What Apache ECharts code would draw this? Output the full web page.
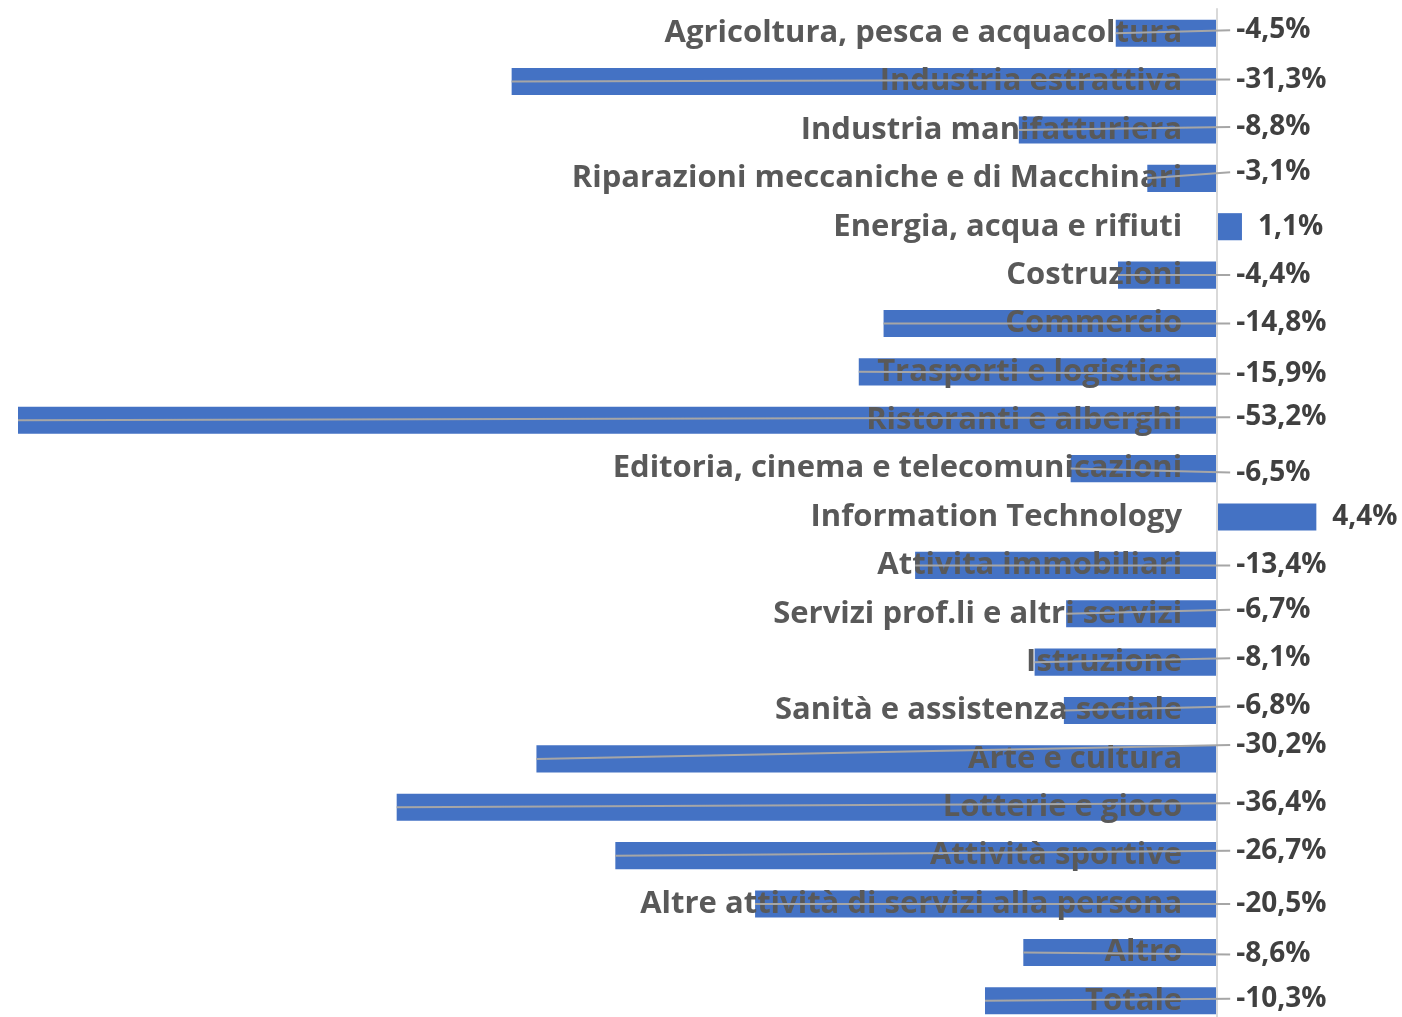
<!DOCTYPE html>
<html>
<head>
<meta charset="utf-8">
<script src="https://cdn.jsdelivr.net/npm/echarts@6/dist/echarts.min.js"></script>
<style>
  html, body { margin: 0; padding: 0; background: #fff; }
  #chart { width: 1402px; height: 1017px; }
</style>
</head>
<body>
<div id="chart"></div>
<script>
var categories = [
  'Agricoltura, pesca e acquacoltura',
  'Industria estrattiva',
  'Industria manifatturiera',
  'Riparazioni meccaniche e di Macchinari',
  'Energia, acqua e rifiuti',
  'Costruzioni',
  'Commercio',
  'Trasporti e logistica',
  'Ristoranti e alberghi',
  'Editoria, cinema e telecomunicazioni',
  'Information Technology',
  'Attivita immobiliari',
  'Servizi prof.li e altri servizi',
  'Istruzione',
  'Sanità e assistenza sociale',
  'Arte e cultura',
  'Lotterie e gioco',
  'Attività sportive',
  'Altre attività di servizi alla persona',
  'Altro',
  'Totale'
];
var variazione = [-4.5, -31.3, -8.8, -3.1, 1.1, -4.4, -14.8, -15.9, -53.2, -6.5, 4.4,
  -13.4, -6.7, -8.1, -6.8, -30.2, -36.4, -26.7, -20.5, -8.6, -10.3];

// small vertical nudges of the data labels (px), as placed in the original
var labelNudge = [-3, -2, -3, -6, 0, 0, 0, 2, -3, 4, 0, 0, -4, -4, -4, -14, -4, -5, 0, 2, -2];

var FONT = '"Open Sans"';
var X_MIN = -53.2, X_MAX = 8.2;
var GRID_LEFT = 18, GRID_W = 1384;
// category axis sits on the zero line
var zeroOffset = -(0 - X_MIN) / (X_MAX - X_MIN) * GRID_W;

var chart = echarts.init(document.getElementById('chart'));

function fmt(v) {
  return v.toFixed(1).replace('.', ',') + '%';
}

var labelData = variazione.map(function (v, i) { return [v, i]; });

var option = {
  animation: false,
  grid: { left: GRID_LEFT, width: GRID_W, top: 9, bottom: -8, containLabel: false, outerBoundsMode: 'none' },
  xAxis: {
    type: 'value',
    min: X_MIN,
    max: X_MAX,
    show: false
  },
  yAxis: {
    type: 'category',
    data: categories,
    inverse: true,
    position: 'left',
    offset: zeroOffset,
    z: 3,
    axisLine: { show: true, onZero: false, lineStyle: { color: '#d9d9d9', width: 2 } },
    axisTick: { show: false },
    axisLabel: {
      margin: 35,
      padding: [4, 0, 0, 0],
      fontFamily: FONT,
      fontWeight: 'bold',
      fontSize: 31,
      color: '#595959'
    }
  },
  series: [
    {
      type: 'bar',
      data: variazione,
      barWidth: '56%',
      z: 2,
      itemStyle: { color: '#4472c4' }
    },
    {
      type: 'custom',
      z: 5,
      data: labelData,
      renderItem: function (params, api) {
        var v = api.value(0);
        var idx = api.value(1);
        var end = api.coord([v, idx]);
        var zero = api.coord([0, idx]);
        var ly = end[1] + labelNudge[params.dataIndex];
        var children = [];
        var tx;
        if (v < 0) {
          tx = zero[0] + 19;
          children.push({
            type: 'line',
            shape: { x1: end[0], y1: end[1], x2: tx - 6, y2: ly },
            style: { stroke: '#a6a6a6', lineWidth: 2 }
          });
        } else {
          tx = end[0] + 16;
        }
        children.push({
          type: 'text',
          style: {
            x: tx,
            y: ly,
            text: fmt(v),
            fill: '#404040',
            font: 'bold 28px ' + FONT,
            verticalAlign: 'middle',
            align: 'left'
          }
        });
        return { type: 'group', children: children };
      }
    }
  ]
};
chart.setOption(option);
</script>
</body>
</html>
